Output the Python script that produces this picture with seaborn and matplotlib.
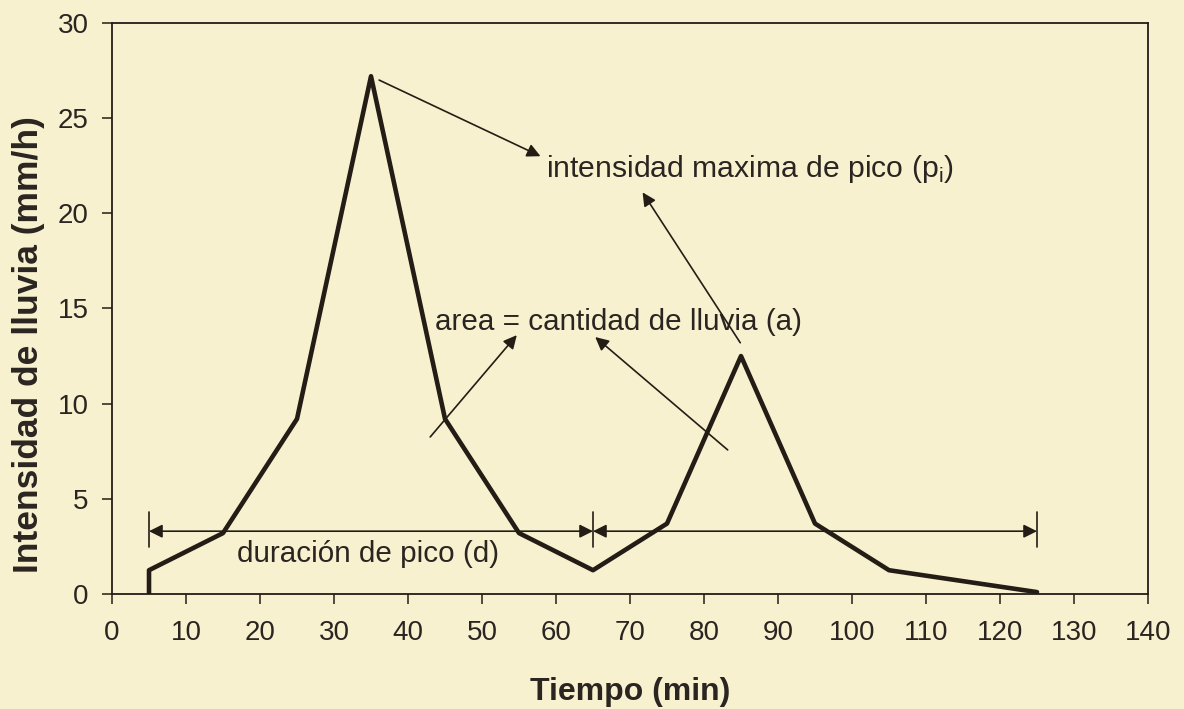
import matplotlib
matplotlib.use("Agg")
import matplotlib.pyplot as plt
import seaborn as sns
import pandas as pd

tiempo = [5, 5, 15, 25, 35, 45, 55, 65, 75, 85, 95, 105, 125]
intensidad = [0, 1.25, 3.2, 9.2, 27.2, 9.2, 3.2, 1.25, 3.7, 12.5, 3.7, 1.25, 0.1]
x_ticks = list(range(0, 141, 10))
y_ticks = [0, 5, 10, 15, 20, 25, 30]
duracion_limites = [5, 65, 125]
duracion_nivel = 3.3

sns.set_style("white")
plt.rcParams['font.family'] = ['Liberation Sans', 'DejaVu Sans']

bg = '#f8f1d0'
ink = '#231d16'
txt = '#2a2520'

fig = plt.figure(figsize=(11.84, 7.09), dpi=100, facecolor=bg)
ax = fig.add_axes([0.0946, 0.1622, 0.8750, 0.8054])
ax.set_facecolor(bg)

df = pd.DataFrame({'Tiempo': tiempo, 'Intensidad': intensidad})
sns.lineplot(data=df, x='Tiempo', y='Intensidad', sort=False, estimator=None,
             color=ink, linewidth=3.3, ax=ax)

ax.set_xlim(0, 140)
ax.set_ylim(0, 30)
ax.set_xticks(x_ticks)
ax.set_yticks(y_ticks)
ax.set_xticklabels([str(t) for t in x_ticks], fontsize=20, color=txt)
ax.set_yticklabels([str(t) for t in y_ticks], fontsize=20, color=txt)
ax.tick_params(axis='both', direction='out', length=7, width=1.1, color=ink,
               bottom=True, left=True)
ax.tick_params(axis='x', pad=12)
ax.tick_params(axis='y', pad=10)
for s in ax.spines.values():
    s.set_visible(True)
    s.set_color(ink)
    s.set_linewidth(1.3)

ax.set_xlabel('Tiempo (min)', fontsize=23, fontweight='bold', color=txt, labelpad=22)
ax.set_ylabel('Intensidad de lluvia (mm/h)', fontsize=25.5, fontweight='bold', color=txt)
ax.yaxis.set_label_coords(-0.065, 0.436)

# duration markers
for i in range(len(duracion_limites) - 1):
    ax.annotate('', xy=(duracion_limites[i], duracion_nivel), xytext=(duracion_limites[i + 1], duracion_nivel),
                arrowprops=dict(arrowstyle='<|-|>', color=ink, lw=1.2, mutation_scale=20,
                                shrinkA=0, shrinkB=0))
for xv in duracion_limites:
    ax.plot([xv, xv], [duracion_nivel - 0.85, duracion_nivel + 1.0], color=ink, lw=1.2)

ax.text(16.9, 1.68, 'duración de pico (d)', fontsize=21.3, color=txt, va='baseline', ha='left')
ax.text(58.6, 21.9, r'intensidad maxima de pico (p$_\mathregular{i}$)', fontsize=21.7,
        color=txt, va='baseline', ha='left')
ax.text(43.6, 13.87, 'area = cantidad de lluvia (a)', fontsize=21.3,
        color=txt, va='baseline', ha='left')

arrows = [
    ((36.1, 27.0), (57.9, 23.0)),
    ((84.9, 13.2), (71.7, 21.1)),
    ((43.0, 8.25), (54.7, 13.6)),
    ((83.2, 7.57), (65.3, 13.5)),
]
for tail, head in arrows:
    ax.annotate('', xy=head, xytext=tail,
                arrowprops=dict(arrowstyle='-|>', color=ink, lw=1.2, mutation_scale=20,
                                shrinkA=0, shrinkB=0))

fig.savefig('out.png', dpi=100, facecolor=bg)
